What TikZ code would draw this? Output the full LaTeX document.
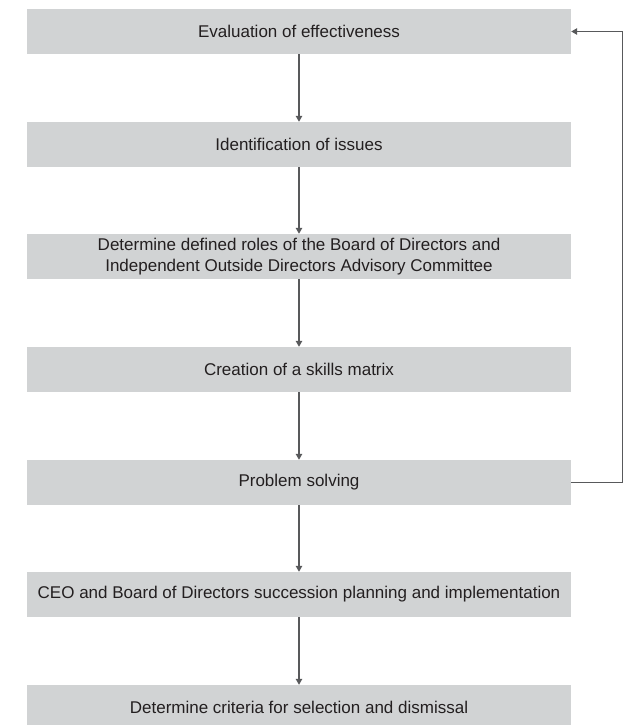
\documentclass[tikz,border=0pt]{standalone}
\usepackage{fontspec}
\setmainfont{Liberation Sans}
\usetikzlibrary{arrows.meta}
\definecolor{boxgray}{HTML}{D1D3D4}
\definecolor{linegray}{HTML}{58595B}
\definecolor{textgray}{HTML}{231F20}
\begin{document}
\begin{tikzpicture}[x=1pt,y=-1pt,
  stepbox/.style={fill=boxgray, minimum width=544pt, minimum height=45pt,
    inner sep=0pt, align=center, text=textgray,
    font=\fontsize{17}{20.5}\selectfont},
  link/.style={draw=linegray, line width=1.2pt,
    -{Triangle[width=6.5pt,length=6pt]}}]
\useasboundingbox (0,0) rectangle (628,725);
\clip (0,0) rectangle (628,725);

% process steps, top to bottom
\node[stepbox] (s1) at (299,31.5)  {Evaluation of effectiveness};
\node[stepbox] (s2) at (299,144.5) {Identification of issues};
\node[stepbox] (s3) at (299,256.5) {Determine defined roles of the Board of Directors and\\Independent Outside Directors Advisory Committee};
\node[stepbox] (s4) at (299,369.5) {Creation of a skills matrix};
\node[stepbox] (s5) at (299,482.5) {Problem solving};
\node[stepbox] (s6) at (299,594.5) {CEO and Board of Directors succession planning and implementation};
\node[stepbox] (s7) at (299,707.5) {Determine criteria for selection and dismissal};

% downward flow
\draw[link] (s1) -- (s2);
\draw[link] (s2) -- (s3);
\draw[link] (s3) -- (s4);
\draw[link] (s4) -- (s5);
\draw[link] (s5) -- (s6);
\draw[link] (s6) -- (s7);

% feedback loop from problem solving back to evaluation
\draw[link] (s5.east) -- ++(51,0) |- (s1.east);
\end{tikzpicture}
\end{document}
